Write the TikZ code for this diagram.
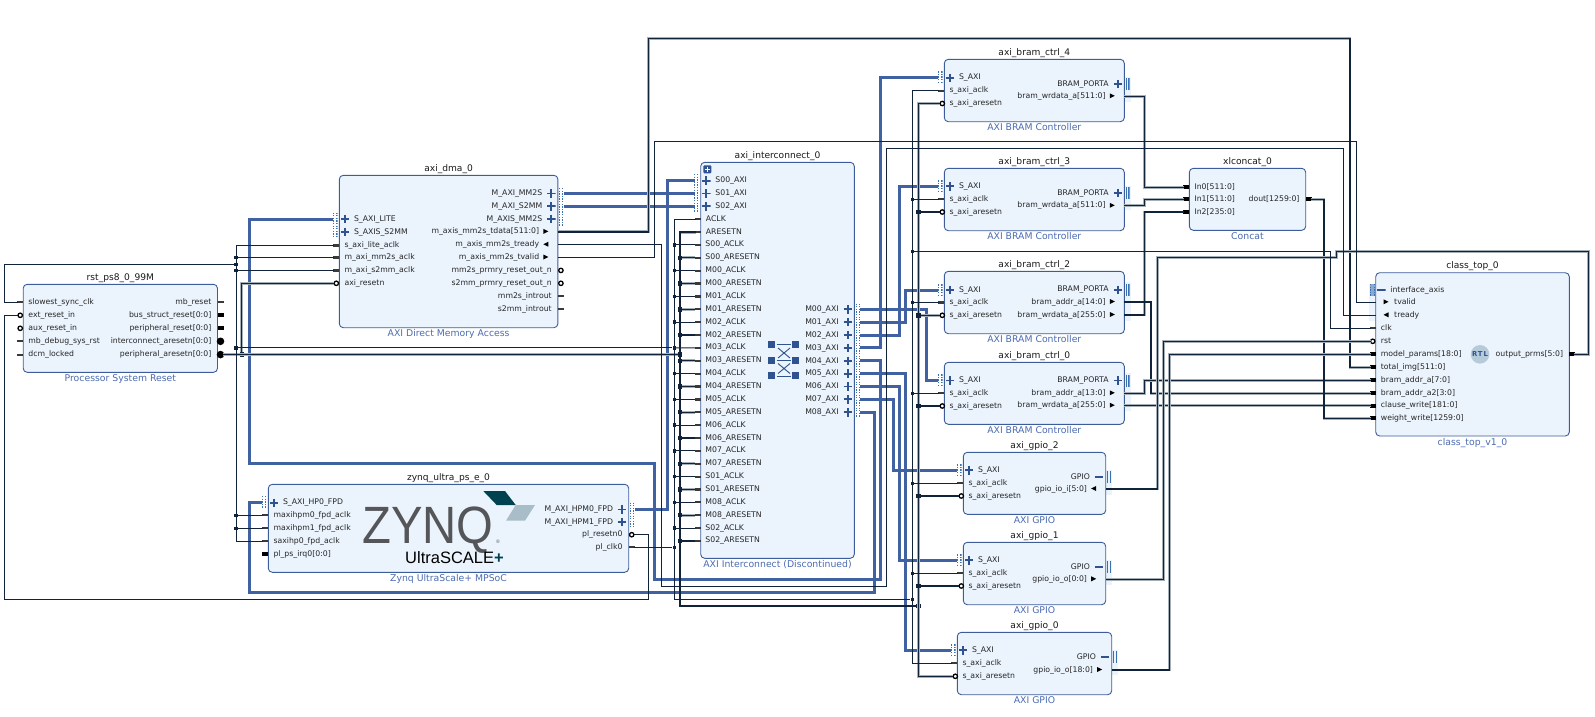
\documentclass[tikz,border=0pt]{standalone}
\usepackage{fontspec}
\setmainfont{DejaVu Sans}
\newfontfamily\logofont{Liberation Sans}
\usetikzlibrary{positioning}
\definecolor{blockfill}{HTML}{EBF4FD}
\definecolor{blockedge}{HTML}{3D5C9A}
\definecolor{subcol}{HTML}{4A6BB0}
\definecolor{busblue}{HTML}{4162A2}
\definecolor{portblue}{HTML}{2F5291}
\definecolor{hatchcol}{HTML}{3A70B0}
\definecolor{wirecol}{HTML}{10233A}
\definecolor{halocol}{HTML}{A4AFB8}
\definecolor{stubcol}{HTML}{3A3A3A}
\definecolor{logogray}{HTML}{55565A}
\definecolor{logoteal}{HTML}{004250}
\definecolor{logolight}{HTML}{A9BDC9}
\definecolor{rtlcol}{HTML}{B5CBDA}
\tikzset{
  block/.style={draw=blockedge, fill=blockfill, line width=0.9pt, rounded corners=4pt, inner sep=0pt},
  blocktitle/.style={font=\fontsize{9.1}{11}\selectfont, inner sep=0pt, text height=7pt, text depth=2pt, text=black!90},
  blocksub/.style={font=\fontsize{9.3}{11}\selectfont, inner sep=0pt, text height=7pt, text depth=2pt, text=subcol},
  pintext/.style={font=\fontsize{7.75}{9}\selectfont, inner sep=0pt, text height=5.8pt, text depth=1.8pt, text=black!85},
  clkstub/.style={fill=stubcol, inner sep=0pt, minimum width=6pt, minimum height=2.2pt},
  datastub/.style={fill=black, inner sep=0pt, minimum width=6pt, minimum height=3.8pt},
  rststub/.style={circle, draw=black, fill=white, line width=1.3pt, inner sep=0pt, minimum size=4.4pt},
  rstblob/.style={circle, fill=black, inner sep=0pt, minimum size=7.6pt},
  plusmark/.style={inner sep=0pt, minimum size=8.4pt, path picture={
    \draw[portblue, line width=1.9pt] (path picture bounding box.west) -- (path picture bounding box.east)
      (path picture bounding box.north) -- (path picture bounding box.south);}},
  minusmark/.style={inner sep=0pt, minimum size=8.4pt, path picture={
    \draw[portblue, line width=1.9pt] (path picture bounding box.west) -- (path picture bounding box.east);}},
  hatchport/.style={inner sep=0pt, minimum width=4.6pt, path picture={
    \draw[hatchcol, line width=1.1pt, dash pattern=on 1.3pt off 1.3pt] ([xshift=0.6pt]path picture bounding box.north west) -- ([xshift=0.6pt]path picture bounding box.south west)
      ([xshift=-0.6pt]path picture bounding box.north east) -- ([xshift=-0.6pt]path picture bounding box.south east);}},
  barport/.style={inner sep=0pt, minimum width=3.6pt, minimum height=12pt, path picture={
    \draw[hatchcol, line width=1.2pt] ([xshift=0.6pt]path picture bounding box.north west) -- ([xshift=0.6pt]path picture bounding box.south west)
      ([xshift=-0.6pt]path picture bounding box.north east) -- ([xshift=-0.6pt]path picture bounding box.south east);}},
  portshade/.style={fill=blockfill},
  busnet/.style={draw=busblue, line width=3pt},
  thinnet/.style={draw=wirecol, line width=0.95pt},
  boldnet/.style={draw=wirecol, line width=1.3pt, preaction={draw=halocol, line width=2.9pt}},
  juncthin/.style={fill=wirecol, inner sep=0pt, minimum size=3.4pt},
  juncbold/.style={fill=wirecol, inner sep=0pt, minimum size=4.4pt},
  swsquare/.style={fill=portblue, inner sep=0pt, minimum size=7pt},
  swline/.style={draw=portblue, line width=0.9pt},
  hvh/.style={to path={-- (#1,0 |- \tikztostart) -- (#1,0 |- \tikztotarget) -- (\tikztotarget)}},
}
\catcode`\_=12
\begin{document}
\begin{tikzpicture}[x=1pt,y=-1pt]
\useasboundingbox (0,0) rectangle (1595,716);
\foreach \sx/\sa/\sb in {1124.3/76.7/101.7, 1124.3/186/210, 1124.3/282/321, 1124.3/373/411, 1105.7/470/495, 1105.7/560/585, 1111.7/650/675, 1369.3/284/321}
  \fill[portshade] (\sx,\sa) rectangle +(6.4,\sb-\sa);
\foreach \bname/\xa/\xb/\ya/\yb/\btitle/\bsub in {
  rst/23.2/217.5/284.3/372.3/rst_ps8_0_99M/Processor System Reset,
  dma/339.3/557.9/175.3/327.7/axi_dma_0/AXI Direct Memory Access,
  zynq/268.3/628.7/484.3/572.3/zynq_ultra_ps_e_0/Zynq UltraScale+ MPSoC,
  ic/700.7/854.3/162.3/558.3/axi_interconnect_0/AXI Interconnect (Discontinued),
  ctrl4/944.3/1124.3/59.3/121.7/axi_bram_ctrl_4/AXI BRAM Controller,
  ctrl3/944.3/1124.3/168.3/230.7/axi_bram_ctrl_3/AXI BRAM Controller,
  ctrl2/944.3/1124.3/271.3/333.7/axi_bram_ctrl_2/AXI BRAM Controller,
  ctrl0/944.3/1124.3/362.3/424.3/axi_bram_ctrl_0/AXI BRAM Controller,
  gpio2/963.3/1105.7/452.3/514.3/axi_gpio_2/AXI GPIO,
  gpio1/963.3/1105.7/542.3/604.7/axi_gpio_1/AXI GPIO,
  gpio0/957.3/1111.7/632.3/694.7/axi_gpio_0/AXI GPIO,
  concat/1189.3/1305.7/168.3/230.3/xlconcat_0/Concat,
  top/1375.7/1569.3/272.7/436/class_top_0/class_top_v1_0}
{
  \node[block, minimum width={(\xb-\xa)*1pt}, minimum height={(\yb-\ya)*1pt}] (\bname) at ({(\xa+\xb)/2},{(\ya+\yb)/2}) {};
  \node[blocktitle, above=1.2pt of \bname] (\bname_title) {\btitle};
  \node[blocksub, below=1.4pt of \bname] (\bname_sub) {\bsub};
}
\foreach \bx/\pname/\py/\ptext/\pkind in {
  23.2/rst_slowest/302.3/slowest_sync_clk/clkstub, 23.2/rst_ext/315.3/ext_reset_in/rststub,
  23.2/rst_aux/328.3/aux_reset_in/rststub, 23.2/rst_dbg/341.3/mb_debug_sys_rst/clkstub, 23.2/rst_dcm/354.6/dcm_locked/clkstub,
  339.3/dma_lite_aclk/245.5/s_axi_lite_aclk/clkstub, 339.3/dma_mm2s_aclk/257.5/m_axi_mm2s_aclk/clkstub,
  339.3/dma_s2mm_aclk/270.4/m_axi_s2mm_aclk/clkstub, 339.3/dma_resetn/283.3/axi_resetn/rststub,
  268.3/zynq_hpm0_aclk/515.3/maxihpm0_fpd_aclk/clkstub, 268.3/zynq_hpm1_aclk/528.3/maxihpm1_fpd_aclk/clkstub,
  268.3/zynq_hp0_aclk/541.3/saxihp0_fpd_aclk/clkstub, 268.3/zynq_irq/554.3/pl_ps_irq0[0:0]/datastub,
  700.7/ic_aclk/219.2/ACLK/clkstub, 700.7/ic_aresetn/232.1/ARESETN/clkstub,
  1189.3/c_in0/187.3/In0[511:0]/datastub, 1189.3/c_in1/199.3/In1[511:0]/datastub, 1189.3/c_in2/212/In2[235:0]/datastub,
  1375.7/top_clk/328.3/clk/clkstub, 1375.7/top_rst/341.3/rst/rststub, 1375.7/top_model/354.3/model_params[18:0]/datastub,
  1375.7/top_total/367.3/total_img[511:0]/datastub, 1375.7/top_addr/380.3/bram_addr_a[7:0]/datastub,
  1375.7/top_addr2/393.3/bram_addr_a2[3:0]/datastub, 1375.7/top_clause/405.7/clause_write[181:0]/datastub,
  1375.7/top_weight/418.3/weight_write[1259:0]/datastub}
{
  \node[\pkind] (\pname_m) at (\bx-3,\py) {};
  \node[pintext, anchor=west] (\pname_t) at (\bx+5,\py+0.2) {\ptext};
  \coordinate (\pname) at (\bx-5,\py);
}
\foreach \bx/\pname/\py/\ptext/\pkind in {
  217.5/rst_mb/302.3/mb_reset/clkstub, 217.5/rst_bus/315.3/bus_struct_reset[0:0]/datastub,
  217.5/rst_per/328.3/peripheral_reset[0:0]/datastub, 217.5/rst_inter/341.3/interconnect_aresetn[0:0]/rstblob,
  217.5/rst_aresetn/354.6/peripheral_aresetn[0:0]/rstblob,
  557.9/dma_mm2s_rst/270.4/mm2s_prmry_reset_out_n/rststub, 557.9/dma_s2mm_rst/283.3/s2mm_prmry_reset_out_n/rststub,
  557.9/dma_mm2s_int/296.3/mm2s_introut/clkstub, 557.9/dma_s2mm_int/309.3/s2mm_introut/clkstub,
  628.7/zynq_resetn/534.7/pl_resetn0/rststub, 628.7/zynq_clk/547.3/pl_clk0/clkstub,
  1305.7/c_dout/199.3/dout[1259:0]/datastub, 1569.3/top_out/354.3/output_prms[5:0]/datastub}
{
  \node[\pkind] (\pname_m) at (\bx+3,\py) {};
  \node[pintext, anchor=east] (\pname_t) at (\bx-6,\py+0.2) {\ptext};
  \coordinate (\pname) at (\bx+5,\py);
}
\foreach \pp [count=\i from 0] in {S00,M00,M01,M02,M03,M04,M05,M06,M07,S01,M08,S02}
{
  \pgfmathsetmacro\ya{244.95+25.74*\i}
  \pgfmathsetmacro\yb{257.82+25.74*\i}
  \node[clkstub] (ic_\pp_aclk_m) at (697.7,\ya) {};
  \node[pintext, anchor=west] (ic_\pp_aclk_t) at (705.2,\ya) {\pp_ACLK};
  \coordinate (ic_\pp_aclk) at (695,\ya);
  \node[clkstub] (ic_\pp_rst_m) at (697.7,\yb) {};
  \node[pintext, anchor=west] (ic_\pp_rst_t) at (705.2,\yb) {\pp_ARESETN};
  \coordinate (ic_\pp_rst) at (695,\yb);
}
\foreach \bname/\bx/\ya/\yb in {ctrl4/944.3/90.7/103.5, ctrl3/944.3/199.3/212, ctrl2/944.3/302.5/315.3, ctrl0/944.3/393.3/406, gpio2/963.3/483.3/496, gpio1/963.3/573.3/586, gpio0/957.3/663.3/676.3}
{
  \node[clkstub] (\bname_aclk_m) at (\bx-3,\ya) {};
  \node[pintext, anchor=west] (\bname_aclk_t) at (\bx+5,\ya+0.2) {s_axi_aclk};
  \coordinate (\bname_aclk) at (\bx-5,\ya);
  \node[rststub] (\bname_rst_m) at (\bx-2,\yb) {};
  \node[pintext, anchor=west] (\bname_rst_t) at (\bx+5,\yb+0.2) {s_axi_aresetn};
  \coordinate (\bname_rst) at (\bx-4,\yb);
}
\foreach \bx/\pname/\py/\ptext/\pmark in {
  339.3/dma_lite/219/S_AXI_LITE/plusmark, 339.3/dma_s2mm/232/S_AXIS_S2MM/plusmark,
  268.3/zynq_hp0/502.7/S_AXI_HP0_FPD/plusmark,
  700.7/ic_s00/180.6/S00_AXI/plusmark, 700.7/ic_s01/193.5/S01_AXI/plusmark, 700.7/ic_s02/206.3/S02_AXI/plusmark,
  944.3/ctrl4_s/77.7/S_AXI/plusmark, 944.3/ctrl3_s/186.3/S_AXI/plusmark, 944.3/ctrl2_s/290/S_AXI/plusmark, 944.3/ctrl0_s/380.5/S_AXI/plusmark,
  963.3/gpio2_s/470.3/S_AXI/plusmark, 963.3/gpio1_s/560.3/S_AXI/plusmark, 957.3/gpio0_s/650.3/S_AXI/plusmark,
  1375.7/top_axis/290/interface_axis/minusmark}
{
  \node[\pmark] (\pname_m) at (\bx+5.7,\py) {};
  \node[pintext, anchor=west] (\pname_t) at (\bx+14.5,\py+0.2) {\ptext};
  \coordinate (\pname) at (\bx-6,\py);
}
\foreach \bx/\pname/\py/\ptext/\pmark in {
  557.9/dma_m_mm2s/193.5/M_AXI_MM2S/plusmark, 557.9/dma_m_s2mm/206.3/M_AXI_S2MM/plusmark, 557.9/dma_m_axis/219/M_AXIS_MM2S/plusmark,
  628.7/zynq_hpm0/509.5/M_AXI_HPM0_FPD/plusmark, 628.7/zynq_hpm1/522/M_AXI_HPM1_FPD/plusmark,
  854.3/ic_m00/309.3/M00_AXI/plusmark, 854.3/ic_m01/322.2/M01_AXI/plusmark, 854.3/ic_m02/335/M02_AXI/plusmark,
  854.3/ic_m03/347.9/M03_AXI/plusmark, 854.3/ic_m04/360.8/M04_AXI/plusmark, 854.3/ic_m05/373.6/M05_AXI/plusmark,
  854.3/ic_m06/386.5/M06_AXI/plusmark, 854.3/ic_m07/399.4/M07_AXI/plusmark, 854.3/ic_m08/412.3/M08_AXI/plusmark,
  1124.3/ctrl4_porta/84/BRAM_PORTA/plusmark, 1124.3/ctrl3_porta/193/BRAM_PORTA/plusmark,
  1124.3/ctrl2_porta/289.7/BRAM_PORTA/plusmark, 1124.3/ctrl0_porta/380.5/BRAM_PORTA/plusmark,
  1105.7/gpio2_gpio/477/GPIO/minusmark, 1105.7/gpio1_gpio/567/GPIO/minusmark, 1111.7/gpio0_gpio/657/GPIO/minusmark}
{
  \node[\pmark] (\pname_m) at (\bx-6.6,\py) {};
  \node[pintext, anchor=east] (\pname_t) at (\bx-15.5,\py+0.2) {\ptext};
  \coordinate (\pname) at (\bx+6,\py);
}
\foreach \pname/\px/\py/\ph/\pfill in {
  dma_hs/335.3/225/25/white, zynq_hs/264.2/502.3/12.5/white, ic_hs/696/193/38/white, ic_hm/858/360.5/114/white,
  dma_hm/561/207/38/white, zynq_hm/632/515/25/white, ctrl4_hs/940.3/77/11.5/white, ctrl3_hs/940.3/186/11.5/white,
  ctrl2_hs/940.3/290/11.5/white, ctrl0_hs/940.3/380/11.5/white, gpio2_hs/959.3/470/11.5/white,
  gpio1_hs/959.3/560/11.5/white, gpio0_hs/953.3/650/11.5/white, top_hs/1372.5/290/12/hatchcol!60}
  \node[hatchport, minimum height=\ph pt, fill=\pfill] (\pname) at (\px,\py) {};
\foreach \pname/\px/\py in {ctrl4_bar/1127.7/84, ctrl3_bar/1127.7/193, ctrl2_bar/1127.7/289.7, ctrl0_bar/1127.7/380.5, gpio2_bar/1109/477, gpio1_bar/1109/567, gpio0_bar/1115/657}
  \node[barport] (\pname) at (\px,\py) {};
\foreach \bx/\pname/\py/\ptext/\pdir in {
  557.9/dma_tdata/231.9/m_axis_mm2s_tdata[511:0]/1, 557.9/dma_tready/244.7/m_axis_mm2s_tready/-1, 557.9/dma_tvalid/257.5/m_axis_mm2s_tvalid/1,
  1124.3/ctrl4_wr/96.3/bram_wrdata_a[511:0]/1, 1124.3/ctrl3_wr/205.8/bram_wrdata_a[511:0]/1,
  1124.3/ctrl2_ad/302/bram_addr_a[14:0]/1, 1124.3/ctrl2_wr/315/bram_wrdata_a[255:0]/1,
  1124.3/ctrl0_ad/393.3/bram_addr_a[13:0]/1, 1124.3/ctrl0_wr/405.7/bram_wrdata_a[255:0]/1,
  1105.7/gpio2_io/489/gpio_io_i[5:0]/-1, 1105.7/gpio1_io/579.3/gpio_io_o[0:0]/1, 1111.7/gpio0_io/670/gpio_io_o[18:0]/1}
{
  \fill[black] (\bx-12-2.5*\pdir,\py-3) -- (\bx-12+2.5*\pdir,\py-0.5) -- (\bx-12-2.5*\pdir,\py+2) -- cycle;
  \node[pintext, anchor=east] (\pname_t) at (\bx-18.5,\py) {\ptext};
  \coordinate (\pname) at (\bx,\py);
}
\foreach \pname/\py/\ptext/\pdir in {top_tvalid/302.3/tvalid/1, top_tready/315.3/tready/-1}
{
  \fill[black] (1386-2.5*\pdir,\py-3) -- (1386+2.5*\pdir,\py-0.5) -- (1386-2.5*\pdir,\py+2) -- cycle;
  \node[pintext, anchor=west] (\pname_t) at (1394,\py) {\ptext};
  \coordinate (\pname) at (1375.7,\py);
}
\node[block, draw=none, fill=portblue, rounded corners=1pt, minimum size=8pt] (ic_expand) at (707.3,169.3) {};
\draw[white, line width=1pt] (ic_expand.center) ++(-2.7,0) -- ++(5.4,0) (ic_expand.center) ++(0,-2.7) -- ++(0,5.4);
\foreach \sname/\sx/\sy in {sw1/771.7/344.3, sw2/795.3/344.3, sw3/771.7/360.3, sw4/795.3/360.3, sw5/771.7/375.7, sw6/795.3/375.7}
  \node[swsquare] (\sname) at (\sx,\sy) {};
\draw[swline] (776.7,344.8) -- (790.7,344.8) (776.7,360.8) -- (790.7,360.8) (776.7,376.5) -- (790.7,376.5);
\draw[swline] (778,348) -- (790,358) (790,348) -- (778,358) (778,363.5) -- (790,373.5) (790,363.5) -- (778,373.5);
\fill[logoteal] (483.3,491) -- (505,491) -- (515.7,505) -- (496.7,505) -- cycle;
\fill[logolight] (515.7,505) -- (535,505) -- (525,520.7) -- (506,520.7) -- cycle;
\node[anchor=base west, inner sep=0pt, xscale=0.9, transform shape, text=logogray, text depth=0pt, font=\logofont\fontsize{52.5}{54}\selectfont] (zynq_word) at (362,543.3) {ZYNQ};
\node[inner sep=0pt, text=logogray, font=\logofont\fontsize{5}{6}\selectfont] (zynq_reg) at (498,541.7) {®};
\node[anchor=base west, inner sep=0pt, font=\logofont\fontsize{16.5}{18}\selectfont] (zynq_scale) at (405,563.3) {UltraSCALE\textcolor{logoteal}{\bfseries +}};
\node[circle, fill=rtlcol, inner sep=0pt, minimum size=18.6pt] (top_logo) at (1480,354.3) {};
\node[inner sep=0pt, text=portblue, font=\bfseries\fontsize{6.8}{8}\selectfont\addfontfeature{LetterSpace=14}] (top_rtl) at (1480,354.3) {RTL};
\draw[busnet] (dma_m_mm2s) -- (ic_s01);
\draw[busnet] (dma_m_s2mm) -- (ic_s02);
\draw[busnet] (zynq_hpm0) to[hvh=667.3] (ic_s00);
\draw[busnet] (ic_m00) to[hvh=926] (ctrl0_s);
\draw[busnet] (ic_m01) to[hvh=905.3] (ctrl2_s);
\draw[busnet] (ic_m02) to[hvh=899.3] (ctrl3_s);
\draw[busnet] (ic_m03) to[hvh=880.7] (ctrl4_s);
\draw[busnet] (ic_m04) -| (880.7,579.3) -| (654.3,463.5) -| (249.3,0 |- dma_lite) -- (dma_lite);
\draw[busnet] (ic_m05) to[hvh=905.3] (gpio0_s);
\draw[busnet] (ic_m06) to[hvh=899.3] (gpio1_s);
\draw[busnet] (ic_m07) to[hvh=893.3] (gpio2_s);
\draw[busnet] (ic_m08) -| (874,592.3) -| (249.3,0 |- zynq_hp0) -- (zynq_hp0);
\node[juncbold] (j_per_dma) at (241.8,354.6) {};
\node[juncbold] (j_per_ic) at (680,354.6) {};
\node[juncbold] (j_rst_bus) at (918.3,606) {};
\draw[boldnet] (rst_aresetn) -- (j_per_ic);
\draw[boldnet] (j_per_dma) |- (dma_resetn);
\draw[boldnet] (ic_aresetn) -| (680,606) -- (j_rst_bus);
\draw[boldnet] (dma_tdata) -| (648.3,38.5) -| (1350,0 |- top_total) -- (top_total);
\draw[boldnet] (ctrl4_wr) to[hvh=1144.3] (c_in0);
\draw[boldnet] (ctrl3_wr) to[hvh=1144.3] (c_in1);
\draw[boldnet] (ctrl2_wr) to[hvh=1144.8] (c_in2);
\draw[boldnet] (ctrl2_ad) to[hvh=1151] (top_addr2);
\draw[boldnet] (ctrl0_ad) to[hvh=1144.3] (top_addr);
\draw[boldnet] (ctrl0_wr) -- (top_clause);
\draw[boldnet] (c_dout) to[hvh=1324] (top_weight);
\draw[boldnet] (gpio2_io) -| (1157.3,257.3) -| (1336.7,251.5) -| (1588.3,0 |- top_out) -- (top_out);
\draw[boldnet] (gpio1_io) to[hvh=1163.3] (top_rst);
\draw[boldnet] (gpio0_io) to[hvh=1169.7] (top_model);
\draw[boldnet] (ctrl4_rst) to[hvh=918.3] (gpio0_rst);
\draw[thinnet] (ctrl4_aclk) to[hvh=912.3] (gpio0_aclk);
\foreach \bname in {ctrl3,ctrl2,ctrl0,gpio2,gpio1}
{
  \draw[boldnet] (918.3,0 |- \bname_rst) -- (\bname_rst);
  \node[juncbold] (j_\bname_rst) at (918.3,0 |- \bname_rst) {};
  \node[juncthin] (j_\bname_aclk) at (912.3,0 |- \bname_aclk) {};
  \draw[thinnet] (j_\bname_aclk) -- (\bname_aclk);
}
\node[juncthin] (j_clk_bus) at (912.3,599.3) {};
\node[juncthin] (j_clk_top) at (912.3,251.7) {};
\draw[thinnet] (ic_aclk) -| (674.3,599.3) -- (j_clk_bus);
\draw[thinnet] (j_clk_top) to[hvh=1330.7] (top_clk);
\draw[thinnet] (dma_tready) -| (661.3,586.7) -| (886.7,148.3) -| (1343.3,0 |- top_tready) -- (top_tready);
\draw[thinnet] (dma_tvalid) -| (654.3,141.7) -| (1356.7,0 |- top_tvalid) -- (top_tvalid);
\draw[thinnet] (dma_lite_aclk) to[hvh=236] (zynq_hp0_aclk);
\foreach \pname in {dma_mm2s_aclk,dma_s2mm_aclk,zynq_hpm0_aclk,zynq_hpm1_aclk}
{
  \node[juncthin] (j_\pname) at (236,0 |- \pname) {};
  \draw[thinnet] (j_\pname) -- (\pname);
}
\node[juncthin] (j_slowest) at (236,264.3) {};
\draw[thinnet] (j_slowest) to[hvh=4.6] (rst_slowest);
\draw[thinnet] (rst_ext) to[hvh=4.6] (648.3,599) |- (zynq_resetn);
\node[juncthin] (j_ic_clk) at (236,347.9) {};
\node[juncthin] (j_ic_m03) at (674.3,347.9) {};
\draw[thinnet] (j_ic_clk) -- (j_ic_m03);
\node[juncthin] (j_zynq_clk) at (674.3,547.3) {};
\draw[thinnet] (zynq_clk) -- (j_zynq_clk);
\foreach \pp in {S00,M00,M01,M02,M04,M05,M06,M07,S01,M08,S02}
{
  \node[juncthin] (j_\pp_aclk) at (674.3,0 |- ic_\pp_aclk) {};
  \draw[thinnet] (j_\pp_aclk) -- (ic_\pp_aclk);
}
\draw[thinnet] (j_ic_m03) -- (ic_M03_aclk);
\foreach \pp in {S00,M00,M01,M02,M03,M04,M05,M06,M07,S01,M08,S02}
{
  \draw[boldnet] (680,0 |- ic_\pp_rst) -- (ic_\pp_rst);
  \node[juncbold] (j_\pp_rst) at (680,0 |- ic_\pp_rst) {};
}
\end{tikzpicture}
\end{document}
